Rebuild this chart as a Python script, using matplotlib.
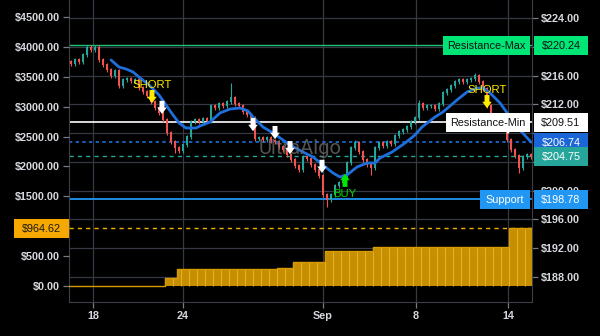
import matplotlib
matplotlib.use("Agg")
import matplotlib.pyplot as plt
import matplotlib.transforms as mtrans
from matplotlib.patches import Rectangle

plt.rcParams["font.family"] = ["Liberation Sans", "DejaVu Sans"]

# ---- data ----
open_first = 217.90
closes = [217.60, 218.16, 217.88, 218.85, 219.95, 219.55, 219.95, 218.16, 217.46, 216.77,
          215.93, 216.63, 214.54, 215.38, 215.52, 215.24, 215.38, 214.26, 213.71, 213.15,
          212.32, 211.48, 210.79, 209.81, 208.01, 206.75, 205.92, 205.50, 206.34, 207.45,
          209.54, 209.81, 209.54, 209.95, 209.67, 211.76, 211.48, 212.04, 211.76, 212.32,
          212.87, 212.04, 211.76, 210.93, 210.51, 210.09, 207.17, 207.31, 207.03, 207.31,
          206.89, 206.75, 206.06, 205.64, 204.95, 204.25, 203.42, 202.86, 204.67, 204.39,
          203.55, 202.86, 202.03, 199.38, 198.69, 199.38, 200.63, 201.05, 202.03, 203.83,
          205.92, 206.61, 205.36, 204.25, 203.55, 203.14, 205.92, 206.61, 206.20, 206.75,
          206.48, 207.59, 208.14, 208.42, 208.84, 209.54, 210.09, 212.04, 211.48, 211.76,
          211.76, 211.34, 212.04, 213.57, 213.99, 214.54, 215.10, 215.38, 215.10, 215.38,
          215.52, 215.93, 215.10, 214.13, 211.76, 209.54, 208.98, 209.12, 208.56, 207.03,
          205.64, 204.81, 203.14, 204.67, 204.95, 204.75]
spike_high_idx = [4, 6, 40, 71, 87, 101]
spike_high = [220.24, 220.24, 214.96, 207.03, 212.60, 216.35]
spike_low_idx = [10, 26, 64, 75, 112]
spike_low = [215.65, 205.22, 197.71, 202.16, 202.44]

ma_x = [10, 12, 13.75, 15.5, 17, 19.5, 22, 23.75, 25.5, 27, 28.75, 31.25, 32.25, 34.75,
        37.25, 39.75, 42.25, 44.25, 45.5, 48, 50.5, 53, 54.75, 58, 60.5, 63, 65.5, 67.25,
        69, 71.5, 74, 76, 77.25, 80.25, 83.5, 86, 87.75, 91, 93, 96.5, 99, 101.5, 103,
        104.75, 107.25, 109.75, 112.25, 115]
ma_y = [218.16, 217.18, 216.91, 216.49, 215.79, 214.68, 213.29, 211.90, 210.51, 209.40,
        208.70, 208.70, 208.98, 209.54, 210.79, 211.34, 211.48, 211.07, 210.23, 208.84,
        208.01, 207.03, 206.34, 205.36, 204.67, 203.55, 202.44, 201.89, 202.16, 203.28,
        203.83, 203.83, 204.53, 205.36, 206.61, 207.73, 208.84, 210.23, 210.93, 212.60,
        213.71, 214.26, 214.26, 213.57, 212.18, 210.23, 208.42, 206.74]

equity_levels = [0, 134, 284, 301, 401, 585, 652, 964.62]
equity_from = [0, 24, 27, 52, 56, 64, 76, 110]

res_max = 220.24
res_min = 209.51
ma_last = 206.74
last_price = 204.75
support = 198.78
pnl_last = 964.62

short_x = [20.25, 104.0]
short_y = [213.0, 212.3]
exit_x = [22.75, 45.5, 51.0, 54.75, 62.75, 109.25]
exit_y = [211.5, 209.1, 208.0, 205.9, 203.3, 208.7]
buy_x = [68.5]
buy_y = [201.5]

xtick_pos = [5.5, 28, 63, 86.25, 109.25]
xtick_labels = ["18", "24", "Sep", "8", "14"]
price_ticks = [188, 192, 196, 200, 204, 208, 212, 216, 220, 224]
equity_ticks = [0, 500, 1000, 1500, 2000, 2500, 3000, 3500, 4000, 4500]
# tick labels that sit under a tag in the reference
price_hidden = [204, 208, 220]
equity_hidden = [1000]

# ---- derived candles / equity ----
n = len(closes)
opens = [open_first] + closes[:-1]
highs = [max(o, c) + 0.3 for o, c in zip(opens, closes)]
lows = [min(o, c) - 0.3 for o, c in zip(opens, closes)]
for i, v in zip(spike_high_idx, spike_high): highs[i] = v
for i, v in zip(spike_low_idx, spike_low): lows[i] = v
equity = []
for i in range(n):
    lvl = 0
    for start, v in zip(equity_from, equity_levels):
        if i >= start: lvl = v
    equity.append(lvl)

UP, DN = "#26a69a", "#f05350"
GRID = "#363942"
TXT = "#d6d8de"
FS = 7.8

fig = plt.figure(figsize=(6, 3.36), dpi=100, facecolor="black")
axp = fig.add_axes([0.115, 0.101, 0.7717, 0.899])
axp.set_facecolor("black")
axe = axp.twinx()

# grid
for y in price_ticks: axp.axhline(y, color=GRID, lw=0.9, zorder=0)
for x in xtick_pos: axp.axvline(x, color=GRID, lw=0.9, zorder=0)

# candles
cols = [UP if c >= o else DN for o, c in zip(opens, closes)]
idx = list(range(n))
axp.vlines(idx, lows, highs, colors=cols, lw=0.8, zorder=3)
axp.bar(idx, [abs(c - o) + 0.08 for o, c in zip(opens, closes)], bottom=[min(o, c) for o, c in zip(opens, closes)],
        width=0.66, color=cols, zorder=3)
axp.plot(ma_x, ma_y, color="#1e6fdc", lw=2, zorder=4, solid_capstyle="round")

# level lines
axp.axhline(res_max, color="#1fc37a", lw=1.0, zorder=2)
axp.axhline(res_min, color="white", lw=1.2, zorder=2)
axp.axhline(ma_last, color="#1e6fdc", lw=1.2, ls=(0, (2, 2)), zorder=2)
axp.axhline(last_price, color="#26a69a", lw=1.0, ls=(0, (3, 3)), zorder=2)
axp.axhline(support, color="#2196f3", lw=1.3, zorder=2)

axp.text(0.5, 0.51, "UltraAlgo", transform=axp.transAxes, ha="center", va="center",
         fontsize=14.5, color="#707070", alpha=0.75, zorder=6, family="Roboto")

def arrow(ax, x, y, color, up=False):
    d = -1 if up else 1
    ax.annotate("", xy=(x, y - d * 0.85), xytext=(0, d * 9.5), textcoords="offset points",
                arrowprops=dict(arrowstyle="simple,head_width=0.8,head_length=0.55,tail_width=0.42",
                                color=color, mutation_scale=8.5, lw=0, shrinkA=0, shrinkB=0), zorder=7)

for x, y in zip(short_x, short_y):
    arrow(axp, x, y, "#ffeb00")
    axp.text(x, y + 1.75, "SHORT", color="#ffeb00", fontsize=8.2, ha="center", va="center", zorder=7)
for x, y in zip(exit_x, exit_y):
    arrow(axp, x, y, "white")
for x, y in zip(buy_x, buy_y):
    arrow(axp, x, y, "#00e600", up=True)
    axp.text(x, y - 1.95, "BUY", color="#00d800", fontsize=8.2, ha="center", va="center", zorder=7)

# tags on the price scale
trp = mtrans.blended_transform_factory(axp.transAxes, axp.transData)
def tag(y, txt, fc, tc, name=None, name_x0=None):
    h = 2.64
    axp.add_patch(Rectangle((1.004, y - h / 2), 0.117, h, transform=trp, fc=fc, ec="none",
                            clip_on=False, zorder=20))
    axp.text(1.0625, y, txt, transform=trp, ha="center", va="center_baseline", color=tc,
             fontsize=FS, zorder=21, clip_on=False)
    if name:
        axp.add_patch(Rectangle((name_x0, y - h / 2), 0.996 - name_x0, h, transform=trp, fc=fc,
                                ec="none", clip_on=False, zorder=20))
        axp.text((name_x0 + 0.996) / 2, y, name, transform=trp, ha="center", va="center_baseline",
                 color=tc, fontsize=FS, zorder=21, clip_on=False)

tag(res_max, f"${res_max:.2f}", "#00e676", "#111111", "Resistance-Max", 0.808)
tag(res_min, f"${res_min:.2f}", "white", "#111111", "Resistance-Min", 0.814)
tag(ma_last, f"${ma_last:.2f}", "#1a66d6", "white")
tag(last_price, f"${last_price:.2f}", "#26a69a", "white")
tag(support, f"${support:.2f}", "#2196f3", "white", "Support", 0.888)

# equity histogram on the left scale
axe.bar(idx, equity, width=1.0, color="#c58f00", lw=0, zorder=2)
axe.vlines([i - 0.5 for i in idx if i % 2 == 0 and equity[i] > 0],
           0, [equity[i] for i in idx if i % 2 == 0 and equity[i] > 0], colors="#e6ae2c", lw=0.8, zorder=3)
axe.step([i - 0.5 for i in idx] + [n - 0.5], equity + [equity[-1]], where="post", color="#d99a00", lw=1, zorder=3)
axe.axhline(pnl_last, color="#f0b400", lw=1, ls=(0, (3, 3)), zorder=2)
tre = mtrans.blended_transform_factory(axe.transAxes, axe.transData)
axe.add_patch(Rectangle((-0.119, pnl_last - 159), 0.119, 318, transform=tre, fc="#f5a800", ec="none",
                        clip_on=False, zorder=20))
axe.text(-0.06, pnl_last, f"${pnl_last:.2f}", transform=tre, ha="center", va="center_baseline",
         color="#1a1a1a", fontsize=FS, zorder=21, clip_on=False)

# axes cosmetics
axp.set_xlim(-0.5, 115.25)
axp.set_ylim(184.5, 226.5)
axe.set_ylim(-268, 4784)
axp.yaxis.tick_right()
axe.yaxis.tick_left()
axp.set_yticks(price_ticks, ["" if v in price_hidden else f"${v:.2f}" for v in price_ticks])
axe.set_yticks(equity_ticks, ["" if v in equity_hidden else f"${v:.2f}" for v in equity_ticks])
axp.set_xticks(xtick_pos, xtick_labels)
for a in (axp, axe):
    a.tick_params(colors="#787b86", labelcolor=TXT, labelsize=FS, length=4, width=0.9, pad=2.5)
    for lab in a.get_xticklabels() + a.get_yticklabels(): lab.set_fontweight("bold")
    for s in a.spines.values(): s.set_visible(False)
for s in ("left", "right", "bottom"):
    axp.spines[s].set_visible(True)
    axp.spines[s].set_color("#3c3f48")

fig.savefig("out.png", dpi=100, facecolor="black")
